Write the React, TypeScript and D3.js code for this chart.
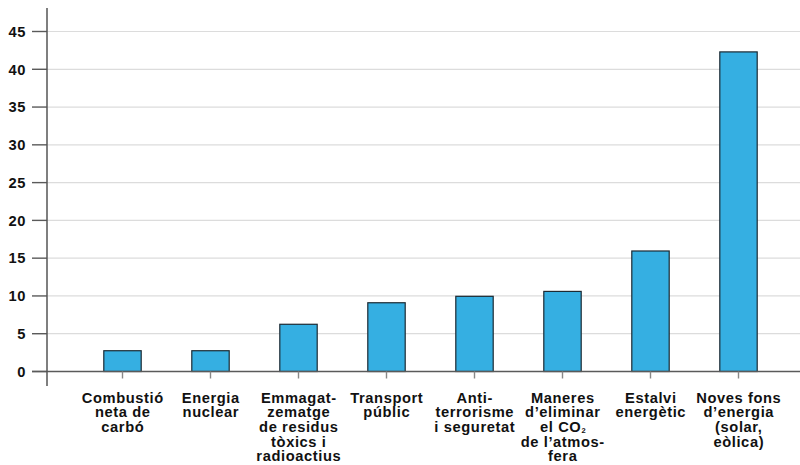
import React from "react";
import * as d3 from "d3";

const categories: string[][] = [
  ["Combustió", "neta de", "carbó"],
  ["Energia", "nuclear"],
  ["Emmagat-", "zematge", "de residus", "tòxics i", "radioactius"],
  ["Transport", "públic"],
  ["Anti-", "terrorisme", "i seguretat"],
  ["Maneres", "d’eliminar", "el CO_2", "de l’atmos-", "fera"],
  ["Estalvi", "energètic"],
  ["Noves fons", "d’energia", "(solar,", "eòlica)"],
];
const values: number[] = [2.75, 2.75, 6.25, 9.1, 9.95, 10.6, 15.95, 42.3];
const yTicks: number[] = [0, 5, 10, 15, 20, 25, 30, 35, 40, 45];

const W = 800;
const H = 465;
const FONT = "'Liberation Sans', Arial, Helvetica, sans-serif";

export default function App() {
  const keys = categories.map((c, i) => String(i));
  const x = d3
    .scaleBand<string>()
    .domain(keys)
    .range([78.5, 782.5])
    .paddingInner(0.575)
    .paddingOuter(0.2875);
  const y = d3.scaleLinear().domain([0, 45]).range([371.5, 31.5]);
  const axisX = 47;
  const fs = 14.7;
  const ls = 0.6;
  const lh = 14.7;
  const firstBaseline = 402.5;

  const renderLine = (s: string) => {
    const idx = s.indexOf("_");
    if (idx < 0) return s;
    return (
      <>
        {s.slice(0, idx)}
        <tspan fontSize={7.5} dy={1.5} letterSpacing={0}>
          {s.slice(idx + 1)}
        </tspan>
      </>
    );
  };

  return (
    <svg
      width={W}
      height={H}
      style={{ position: "absolute", left: 0, top: 0, background: "#fff" }}
      fontFamily={FONT}
    >
      {yTicks
        .filter((t) => t !== 0)
        .map((t) => (
          <line
            key={"g" + t}
            x1={axisX}
            x2={W}
            y1={y(t)}
            y2={y(t)}
            stroke="#dcdcdc"
            strokeWidth={1.2}
          />
        ))}
      {yTicks.map((t) => (
        <g key={"t" + t}>
          <line
            x1={32}
            x2={axisX}
            y1={y(t)}
            y2={y(t)}
            stroke="#5a5a5a"
            strokeWidth={1.4}
          />
          <text
            x={26}
            y={y(t)}
            dy="0.36em"
            textAnchor="end"
            fontSize={fs}
            letterSpacing={ls}
            fontWeight="bold"
            fill="#111"
          >
            {t}
          </text>
        </g>
      ))}
      {values.map((v, i) => (
        <rect
          key={"b" + i}
          x={x(keys[i])!}
          y={y(v)}
          width={x.bandwidth()}
          height={y(0) - y(v)}
          fill="#35afe2"
          stroke="#1c2a33"
          strokeWidth={1.2}
        />
      ))}
      <line
        x1={32}
        x2={W}
        y1={y(0)}
        y2={y(0)}
        stroke="#5a5a5a"
        strokeWidth={1.5}
      />
      <line
        x1={axisX}
        x2={axisX}
        y1={8}
        y2={386}
        stroke="#555"
        strokeWidth={1.5}
      />
      {keys.map((k) => (
        <line
          key={"xt" + k}
          x1={x(k)! + x.bandwidth() / 2}
          x2={x(k)! + x.bandwidth() / 2}
          y1={y(0)}
          y2={y(0) + 7}
          stroke="#888"
          strokeWidth={1.4}
        />
      ))}
      {categories.map((lines, i) => (
        <text
          key={"xl" + i}
          textAnchor="middle"
          fontSize={fs}
          letterSpacing={ls}
          fontWeight="bold"
          fill="#111"
        >
          {lines.map((ln, j) => (
            <tspan
              key={j}
              x={x(keys[i])! + x.bandwidth() / 2 + ls / 2}
              y={firstBaseline + j * lh}
            >
              {renderLine(ln)}
            </tspan>
          ))}
        </text>
      ))}
    </svg>
  );
}
